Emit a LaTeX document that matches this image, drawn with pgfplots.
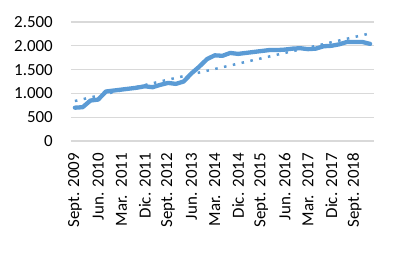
\documentclass[border=0pt]{standalone}
\usepackage{fontspec}
\setmainfont{Carlito}
\usepackage{pgfplots}
\pgfplotsset{compat=1.18}
\definecolor{exblue}{HTML}{5B9BD5}
\definecolor{gridgray}{HTML}{D9D9D9}
\begin{document}
\begin{tikzpicture}
\begin{axis}[name=ax, scale only axis, width=303bp, height=119bp,
 xmin=-0.5, xmax=38.5, ymin=0, ymax=2500,
 ytick={0,500,1000,1500,2000,2500},
 xtick={0,3,...,36},
 xticklabels={Sept. 2009, Jun. 2010, Mar.\ \ 2011, Dic. 2011, Sept. 2012, Jun. 2013, Mar.\ \ 2014, Dic. 2014, Sept. 2015, Jun. 2016, Mar.\ \ 2017, Dic. 2017, Sept. 2018},
 axis line style={draw=none}, major tick length=0pt,
 ymajorgrids, grid style={color=gridgray, line width=1.2bp},
 ticklabel style={font=\fontsize{17}{20}\selectfont},
 /pgf/number format/assume math mode=true,
 /pgf/number format/1000 sep={.},
 yticklabel style={inner sep=0pt, xshift=-18bp},
 xticklabel style={yshift=-12bp, rotate=90, anchor=east, inner sep=0pt},
 clip=false,
]
\addplot[exblue, line width=4.3bp, line join=round, line cap=round] coordinates {
(0,700) (1,710) (2,850) (3,870) (4,1040) (5,1060) (6,1080) (7,1100) (8,1120) (9,1150)
(10,1130) (11,1180) (12,1220) (13,1200) (14,1250) (15,1420) (16,1560) (17,1720) (18,1800) (19,1790)
(20,1850) (21,1830) (22,1850) (23,1870) (24,1890) (25,1910) (26,1910) (27,1920) (28,1940) (29,1950)
(30,1930) (31,1940) (32,1990) (33,2000) (34,2030) (35,2080) (36,2080) (37,2080) (38,2040)
};
\addplot[exblue, line width=2.5bp, dash pattern=on 2.5bp off 6.5bp] coordinates {(0,840) (38,2260)};
\end{axis}
\pgfresetboundingbox
\path[use as bounding box] ([shift={(-71bp,-113bp)}]ax.south west) rectangle ([shift={(325bp,141bp)}]ax.south west);
\end{tikzpicture}
\end{document}
